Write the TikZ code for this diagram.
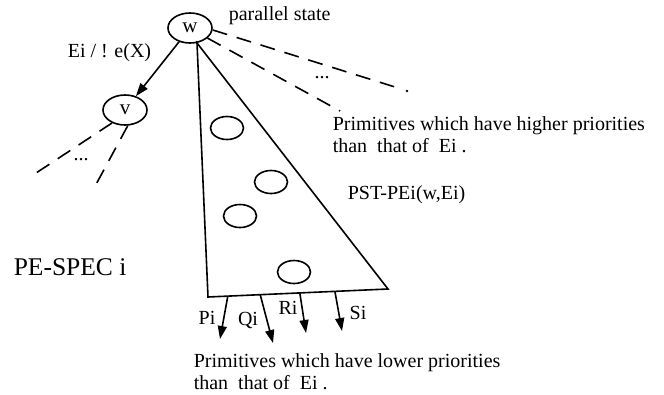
\documentclass[tikz,border=0pt]{standalone}
\usepackage{fontspec}
\setmainfont{Liberation Serif}
\usetikzlibrary{shapes.geometric,arrows.meta,calc}
\begin{document}
\begin{tikzpicture}[x=1pt,y=-1pt,
  line width=1.6pt,
  txt/.style={inner sep=0pt,font=\fontsize{20}{22}\selectfont},
  state/.style={draw,ellipse,inner sep=0pt,minimum width=44pt,minimum height=30pt,font=\fontsize{21}{22}\selectfont},
  blob/.style={draw,ellipse,inner sep=0pt,minimum width=33pt,minimum height=23pt},
  dsh/.style={dash pattern=on 15pt off 10pt,line width=1.6pt},
  tip/.style={-{Triangle[length=13pt,width=9pt]}}]
\useasboundingbox (0,0) rectangle (664,394);
% states
\node[state] (w) at (190,28) {w};
\node[state] (v) at (125,110) {v};
\draw[tip] (w) -- (v);
\node[txt,anchor=base west] (lab) at (67,57) {Ei / ! e(X)};
\node[txt,anchor=base west] (par) at (228,20) {parallel state};
% dashed lines from w
\coordinate (d1) at (395,87);
\coordinate (d2) at (340,111);
\draw[dsh] (w.east) ++(0,2) -- (d1);
\fill (407,91) circle (1.3pt);
\draw[dsh] (w.-30) -- (d2);
\node[txt] (dots1) at (322,78) {...};
% dashed lines from v
\coordinate (e1) at (30,177);
\coordinate (e2) at (93,190);
\draw[dsh] (v.-135) -- (e1);
\draw[dsh] (v.-80) -- (e2);
\node[txt] (dots2) at (81,160) {...};
% triangle
\coordinate (apex) at (197,43);
\coordinate (bl) at (208,297);
\coordinate (br) at (388,289);
\draw[line join=miter] (apex) -- (bl) -- (br) -- cycle;
\node[blob] (b1) at (227,128) {};
\node[blob] (b2) at (271,182) {};
\node[blob] (b3) at (240,216) {};
\node[blob] (b4) at (294,272) {};
\node[txt,anchor=west] (pst) at (347,195) {PST-PEi(w,Ei)};
% outgoing primitives
\coordinate (ps) at ($(bl)!0.11!(br)$);
\coordinate (qs) at ($(bl)!0.29!(br)$);
\coordinate (rs) at ($(bl)!0.51!(br)$);
\coordinate (ss) at ($(bl)!0.705!(br)$);
\coordinate (pt) at (220,339);
\coordinate (qt) at (273,343);
\coordinate (rt) at (306,333);
\coordinate (st) at (342,331);
\draw[tip] (ps) -- (pt);
\draw[tip] (qs) -- (qt);
\draw[tip] (rs) -- (rt);
\draw[tip] (ss) -- (st);
\node[txt] (pl) at (207,318) {Pi};
\node[txt] (ql) at (248,320) {Qi};
\node[txt] (rl) at (288,308) {Ri};
\node[txt] (sl) at (358,313) {Si};
% descriptions
\node[txt,anchor=north west,align=left] (hi) at (332,116) {Primitives which have higher priorities\\than\ \ that of\ \ Ei .};
\node[txt,anchor=north west,align=left] (lo) at (193,353) {Primitives which have lower priorities\\than\ \ that of\ \ Ei .};
\node[txt,anchor=base west,font=\fontsize{25.5}{28}\selectfont] (spec) at (13,275) {PE-SPEC i};
\end{tikzpicture}
\end{document}
